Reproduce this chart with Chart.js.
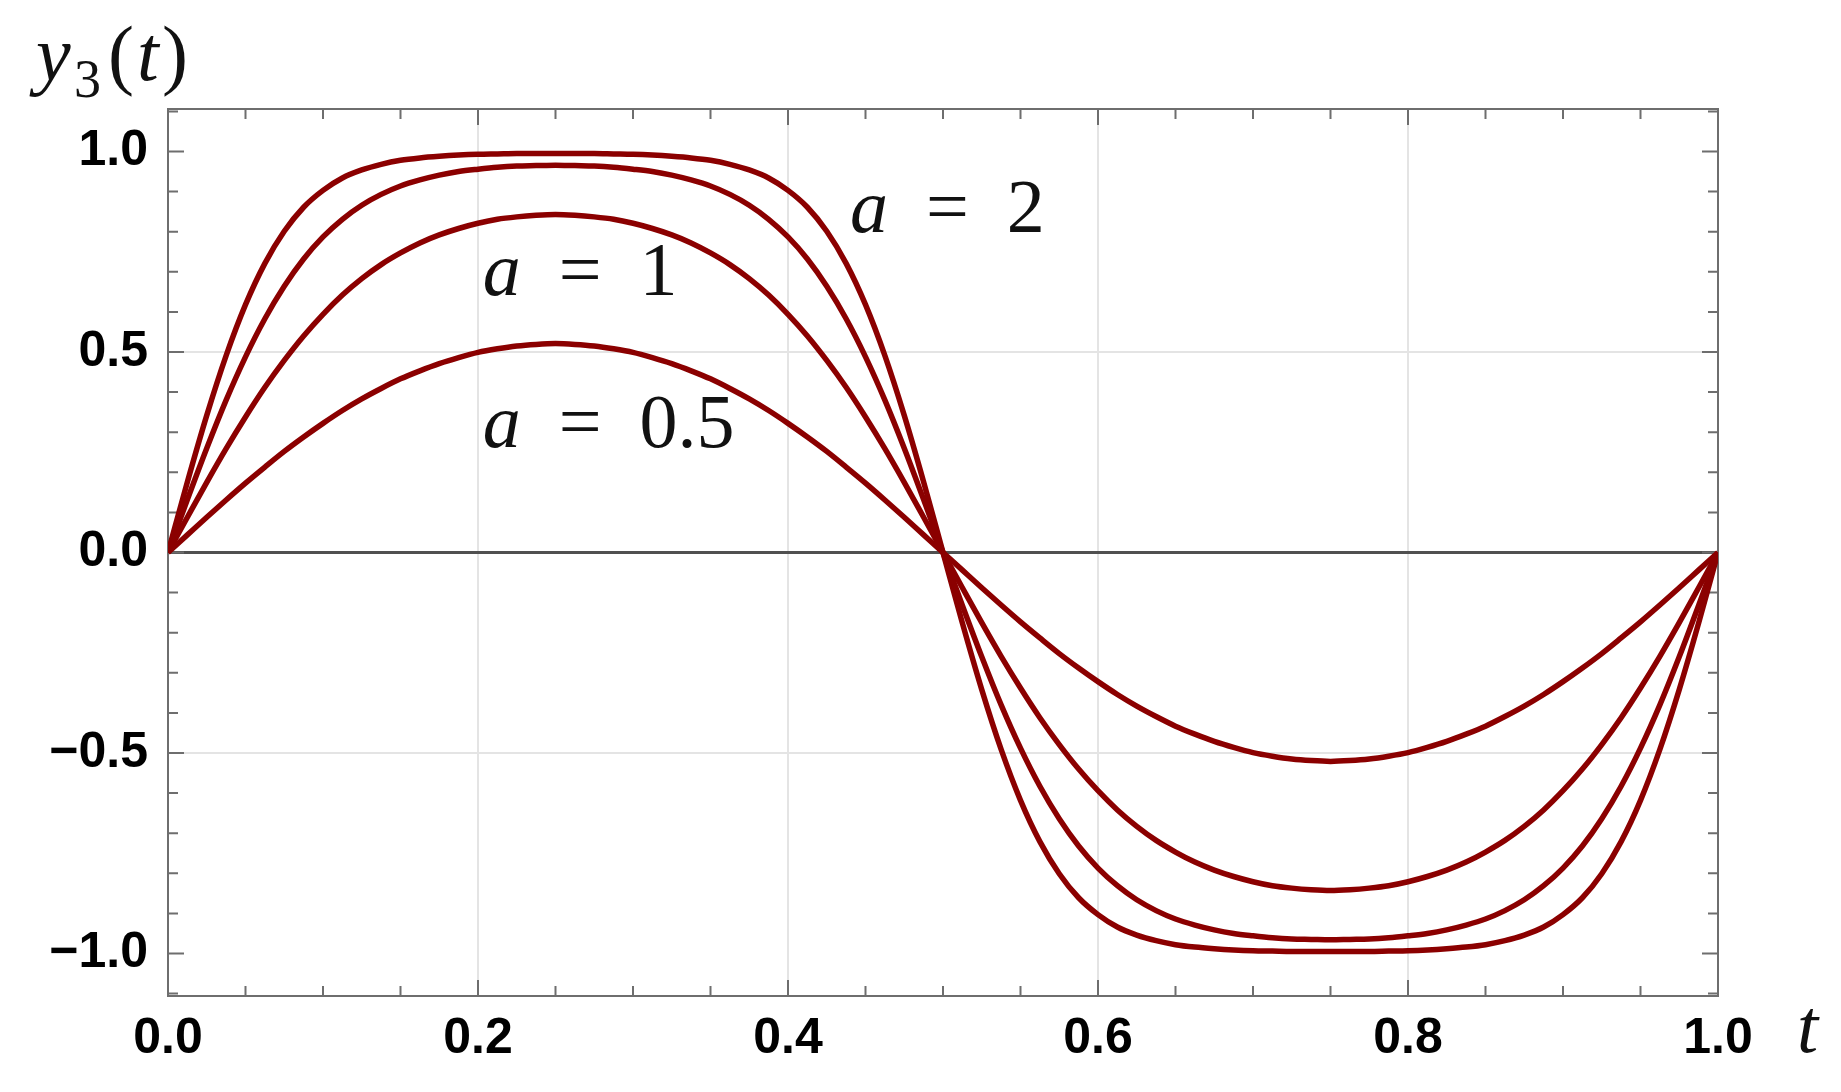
<!DOCTYPE html>
<html>
<head>
<meta charset="utf-8">
<title>y3(t)</title>
<script src="https://cdn.jsdelivr.net/npm/chart.js@4.4.1/dist/chart.umd.min.js"></script>
<style>
  html, body { margin: 0; padding: 0; background: #fff; }
  #chart { display: block; }
</style>
</head>
<body>
<canvas id="chart" width="1841" height="1092"></canvas>
<script>
const tValues = [0, 0.0125, 0.025, 0.0375, 0.05, 0.0625, 0.075, 0.0875, 0.1, 0.1125,
  0.125, 0.1375, 0.15, 0.1625, 0.175, 0.1875, 0.2, 0.2125, 0.225, 0.2375,
  0.25, 0.2625, 0.275, 0.2875, 0.3, 0.3125, 0.325, 0.3375, 0.35, 0.3625,
  0.375, 0.3875, 0.4, 0.4125, 0.425, 0.4375, 0.45, 0.4625, 0.475, 0.4875,
  0.5, 0.5125, 0.525, 0.5375, 0.55, 0.5625, 0.575, 0.5875, 0.6, 0.6125,
  0.625, 0.6375, 0.65, 0.6625, 0.675, 0.6875, 0.7, 0.7125, 0.725, 0.7375,
  0.75, 0.7625, 0.775, 0.7875, 0.8, 0.8125, 0.825, 0.8375, 0.85, 0.8625,
  0.875, 0.8875, 0.9, 0.9125, 0.925, 0.9375, 0.95, 0.9625, 0.975, 0.9875, 1];

const yA05 = [0, 0.044, 0.088, 0.131, 0.173, 0.213, 0.252, 0.288, 0.322, 0.354,
  0.383, 0.409, 0.433, 0.453, 0.471, 0.486, 0.499, 0.508, 0.515, 0.519,
  0.521, 0.519, 0.515, 0.508, 0.499, 0.486, 0.471, 0.453, 0.433, 0.409,
  0.383, 0.354, 0.322, 0.288, 0.252, 0.213, 0.173, 0.131, 0.088, 0.044,
  0, -0.044, -0.088, -0.131, -0.173, -0.213, -0.252, -0.288, -0.322, -0.354,
  -0.383, -0.409, -0.433, -0.453, -0.471, -0.486, -0.499, -0.508, -0.515, -0.519,
  -0.521, -0.519, -0.515, -0.508, -0.499, -0.486, -0.471, -0.453, -0.433, -0.409,
  -0.383, -0.354, -0.322, -0.288, -0.252, -0.213, -0.173, -0.131, -0.088, -0.044, 0];

const yA1 = [0, 0.088, 0.175, 0.259, 0.338, 0.412, 0.479, 0.540, 0.594, 0.642,
  0.683, 0.718, 0.747, 0.772, 0.792, 0.808, 0.821, 0.831, 0.837, 0.841,
  0.843, 0.841, 0.837, 0.831, 0.821, 0.808, 0.792, 0.772, 0.747, 0.718,
  0.683, 0.642, 0.594, 0.540, 0.479, 0.412, 0.338, 0.259, 0.175, 0.088,
  0, -0.088, -0.175, -0.259, -0.338, -0.412, -0.479, -0.540, -0.594, -0.642,
  -0.683, -0.718, -0.747, -0.772, -0.792, -0.808, -0.821, -0.831, -0.837, -0.841,
  -0.843, -0.841, -0.837, -0.831, -0.821, -0.808, -0.792, -0.772, -0.747, -0.718,
  -0.683, -0.642, -0.594, -0.540, -0.479, -0.412, -0.338, -0.259, -0.175, -0.088, 0];

const yA15 = [0, 0.132, 0.260, 0.380, 0.488, 0.583, 0.664, 0.732, 0.787, 0.831,
  0.866, 0.893, 0.914, 0.929, 0.941, 0.950, 0.956, 0.961, 0.964, 0.965,
  0.966, 0.965, 0.964, 0.961, 0.956, 0.950, 0.941, 0.929, 0.914, 0.893,
  0.866, 0.831, 0.787, 0.732, 0.664, 0.583, 0.488, 0.380, 0.260, 0.132,
  0, -0.132, -0.260, -0.380, -0.488, -0.583, -0.664, -0.732, -0.787, -0.831,
  -0.866, -0.893, -0.914, -0.929, -0.941, -0.950, -0.956, -0.961, -0.964, -0.965,
  -0.966, -0.965, -0.964, -0.961, -0.956, -0.950, -0.941, -0.929, -0.914, -0.893,
  -0.866, -0.831, -0.787, -0.732, -0.664, -0.583, -0.488, -0.380, -0.260, -0.132, 0];

const yA2 = [0, 0.176, 0.342, 0.491, 0.618, 0.721, 0.801, 0.861, 0.903, 0.934,
  0.954, 0.968, 0.978, 0.984, 0.988, 0.991, 0.993, 0.994, 0.995, 0.995,
  0.995, 0.995, 0.995, 0.994, 0.993, 0.991, 0.988, 0.984, 0.978, 0.968,
  0.954, 0.934, 0.903, 0.861, 0.801, 0.721, 0.618, 0.491, 0.342, 0.176,
  0, -0.176, -0.342, -0.491, -0.618, -0.721, -0.801, -0.861, -0.903, -0.934,
  -0.954, -0.968, -0.978, -0.984, -0.988, -0.991, -0.993, -0.994, -0.995, -0.995,
  -0.995, -0.995, -0.995, -0.994, -0.993, -0.991, -0.988, -0.984, -0.978, -0.968,
  -0.954, -0.934, -0.903, -0.861, -0.801, -0.721, -0.618, -0.491, -0.342, -0.176, 0];

const seriesNames = ['a = 0.5', 'a = 1', 'a = 1.5', 'a = 2'];
const seriesValues = [yA05, yA1, yA15, yA2];

const xTicks = [0, 0.2, 0.4, 0.6, 0.8, 1.0];
const yTicks = [-1.0, -0.5, 0, 0.5, 1.0];
const xMinor = [0, 0.05, 0.1, 0.15, 0.2, 0.25, 0.3, 0.35, 0.4, 0.45, 0.5,
  0.55, 0.6, 0.65, 0.7, 0.75, 0.8, 0.85, 0.9, 0.95, 1.0];
const yMinor = [-1.1, -1.0, -0.9, -0.8, -0.7, -0.6, -0.5, -0.4, -0.3, -0.2, -0.1, 0,
  0.1, 0.2, 0.3, 0.4, 0.5, 0.6, 0.7, 0.8, 0.9, 1.0, 1.1];

// curve labels: [italic part, rest, t, y]
const curveLabels = [
  ['a', '  =  2', 0.44, 0.80],
  ['a', '  =  1', 0.203, 0.641],
  ['a', '  =  0.5', 0.203, 0.262]
];

const RED = '#8b0000';
const SERIF = '"Liberation Serif", "Times New Roman", serif';

function fmt(v) {
  const s = Math.abs(v).toFixed(1);
  return v < 0 ? '\u2212' + s : s;
}

const frameAndTicks = {
  id: 'frameAndTicks',
  beforeDatasetsDraw(chart) {
    const { ctx, chartArea: a, scales: { x, y } } = chart;
    ctx.save();
    ctx.strokeStyle = '#6e6e6e';
    ctx.lineWidth = 2;
    ctx.beginPath();
    xMinor.forEach(v => {
      const px = x.getPixelForValue(v);
      const len = xTicks.some(m => Math.abs(m - v) < 1e-9) ? 16 : 10;
      ctx.moveTo(px, a.bottom); ctx.lineTo(px, a.bottom - len);
      ctx.moveTo(px, a.top); ctx.lineTo(px, a.top + len);
    });
    yMinor.forEach(v => {
      const py = y.getPixelForValue(v);
      const len = yTicks.some(m => Math.abs(m - v) < 1e-9) ? 16 : 10;
      ctx.moveTo(a.left, py); ctx.lineTo(a.left + len, py);
      ctx.moveTo(a.right, py); ctx.lineTo(a.right - len, py);
    });
    ctx.stroke();
    ctx.strokeRect(a.left, a.top, a.right - a.left, a.bottom - a.top);
    ctx.restore();
  },
  afterDraw(chart) {
    const { ctx, scales: { x, y } } = chart;
    ctx.save();
    ctx.fillStyle = '#111';
    ctx.textBaseline = 'alphabetic';
    ctx.textAlign = 'left';

    curveLabels.forEach(([it, rest, t, v]) => {
      const px = x.getPixelForValue(t);
      const py = y.getPixelForValue(v);
      ctx.font = 'italic 76px ' + SERIF;
      ctx.fillText(it, px, py);
      const w = ctx.measureText(it).width;
      ctx.font = '76px ' + SERIF;
      ctx.fillText(rest, px + w, py);
    });

    // axis titles
    ctx.font = 'italic 78px ' + SERIF;
    ctx.fillText('y', 36, 80);
    ctx.font = '54px ' + SERIF;
    ctx.fillText('3', 74, 97);
    ctx.font = '78px ' + SERIF;
    ctx.fillText('(', 108, 80);
    ctx.font = 'italic 78px ' + SERIF;
    ctx.fillText('t', 137, 80);
    ctx.font = '78px ' + SERIF;
    ctx.fillText(')', 162, 80);

    ctx.font = 'italic 76px ' + SERIF;
    ctx.fillText('t', 1797, 1052);
    ctx.restore();
  }
};

new Chart(document.getElementById('chart'), {
  type: 'line',
  data: {
    datasets: seriesValues.map((vals, i) => ({
      label: seriesNames[i],
      data: tValues.map((t, k) => ({ x: t, y: vals[k] })),
      borderColor: RED,
      borderWidth: 5.5,
      pointRadius: 0,
      fill: false,
      cubicInterpolationMode: 'monotone'
    }))
  },
  options: {
    responsive: false,
    animation: false,
    events: [],
    layout: { padding: { left: 0, top: 109, right: 123, bottom: 0 } },
    plugins: { legend: { display: false }, tooltip: { enabled: false } },
    scales: {
      x: {
        type: 'linear',
        min: 0, max: 1,
        afterBuildTicks: s => { s.ticks = xTicks.map(v => ({ value: v })); },
        afterFit: s => { s.height = 96; },
        border: { display: false },
        grid: { drawTicks: false, color: '#e4e4e4', lineWidth: 2 },
        ticks: {
          padding: 13,
          color: '#000',
          font: { family: '"Liberation Sans", Arial, sans-serif', size: 50, weight: 'bold' },
          callback: v => fmt(v),
          maxRotation: 0
        }
      },
      y: {
        type: 'linear',
        min: -1.106, max: 1.106,
        afterBuildTicks: s => { s.ticks = yTicks.map(v => ({ value: v })); },
        afterFit: s => { s.width = 168; },
        border: { display: false },
        grid: {
          drawTicks: false,
          color: c => {
            const v = c.tick ? c.tick.value : null;
            if (v === 0) return '#505050';
            if (Math.abs(v) === 1) return 'rgba(0,0,0,0)';
            return '#e4e4e4';
          },
          lineWidth: c => (c.tick && c.tick.value === 0) ? 3 : 2
        },
        ticks: {
          padding: 20,
          color: '#000',
          font: { family: '"Liberation Sans", Arial, sans-serif', size: 50, weight: 'bold' },
          callback: v => fmt(v)
        }
      }
    }
  },
  plugins: [frameAndTicks]
});
</script>
</body>
</html>
